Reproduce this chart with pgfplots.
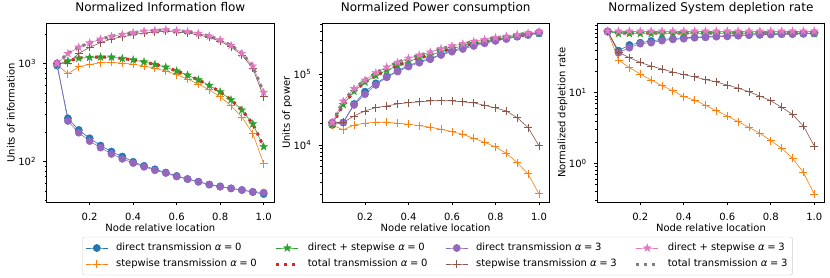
\documentclass[border=0pt]{standalone}
\usepackage{pgfplots}
\usepackage{pgfplotstable}
\pgfplotsset{compat=1.18}
\usepackage{fontspec}
\setmainfont{DejaVu Sans}
\definecolor{c0}{HTML}{1F77B4}
\definecolor{c1}{HTML}{FF7F0E}
\definecolor{c2}{HTML}{2CA02C}
\definecolor{c3}{HTML}{D62728}
\definecolor{c4}{HTML}{9467BD}
\definecolor{c5}{HTML}{8C564B}
\definecolor{c6}{HTML}{E377C2}
\definecolor{c7}{HTML}{7F7F7F}
\pgfdeclareplotmark{fstar}{%
  \pgfpathmoveto{\pgfpointpolar{90}{\pgfplotmarksize}}%
  \pgfpathlineto{\pgfpointpolar{126}{0.382\pgfplotmarksize}}%
  \pgfpathlineto{\pgfpointpolar{162}{\pgfplotmarksize}}%
  \pgfpathlineto{\pgfpointpolar{198}{0.382\pgfplotmarksize}}%
  \pgfpathlineto{\pgfpointpolar{234}{\pgfplotmarksize}}%
  \pgfpathlineto{\pgfpointpolar{270}{0.382\pgfplotmarksize}}%
  \pgfpathlineto{\pgfpointpolar{306}{\pgfplotmarksize}}%
  \pgfpathlineto{\pgfpointpolar{342}{0.382\pgfplotmarksize}}%
  \pgfpathlineto{\pgfpointpolar{18}{\pgfplotmarksize}}%
  \pgfpathlineto{\pgfpointpolar{54}{0.382\pgfplotmarksize}}%
  \pgfpathclose
  \pgfusepathqfillstroke}

\pgfplotstableread{
x    dA0   sA0   dsA0  tA0   dA3   sA3   dsA3  tA3
0.05 950   960   970   970   1000  1000  1000  1000
0.10 275   785   1060  1060  258   1000  1260  1260
0.15 209   920   1130  1130  196   1265  1461  1461
0.20 172   977   1150  1150  161   1456  1617  1617
0.25 145   1010  1160  1160  138   1626  1764  1764
0.30 126   1024  1155  1155  119   1770  1889  1889
0.35 112   1005  1120  1120  106   1870  1976  1976
0.40 99    980   1085  1085  96    1960  2056  2056
0.45 90    940   1035  1035  88    2040  2128  2128
0.50 83    890   975   975   81    2090  2171  2171
0.55 77    836   913   913   76    2120  2196  2196
0.60 71    765   836   836   70    2090  2160  2160
0.65 66    692   758   758   66    2040  2106  2106
0.70 62    615   677   677   62    1960  2022  2022
0.75 58    538   596   596   58    1840  1898  1898
0.80 55.6  455   511   511   55    1680  1735  1735
0.85 53    370   424   424   53    1470  1523  1523
0.90 51    283   334   334   51    1216  1267  1267
0.95 48.6  192   241   241   49    890   939   939
1.00 46.4  95    141   141   48    457   505   505
}\tInfo

\pgfplotstableread{
x    dA0     sA0    dsA0    tA0     dA3     sA3    dsA3    tA3
0.05 19100   19100  19500   19500   20700   20700  20700   20700
0.10 20700   16300  37000   37000   20700   20700  41400   41400
0.15 37800   19100  56900   56900   36600   25600  62200   62200
0.20 56400   20200  76600   76600   51800   30100  81900   81900
0.25 73800   20900  94700   94700   70000   33600  103600  103600
0.30 91700   20900  112600  112600  89700   35400  125000  125000
0.35 111000  20200  131000  131000  108000  37800  146000  146000
0.40 131000  19600  150600  150600  127000  39500  166500  166500
0.45 149000  18700  168000  168000  144000  40400  184000  184000
0.50 166000  17800  184000  184000  161000  41700  203000  203000
0.55 189000  16600  206000  206000  185000  42100  227000  227000
0.60 213000  15400  228000  228000  206000  41700  248000  248000
0.65 235000  14100  249000  249000  225000  40400  265000  265000
0.70 256000  12400  268000  268000  248000  39100  287000  287000
0.75 279000  10900  290000  290000  270000  36200  306000  306000
0.80 298000  9370   307000  307000  292000  33200  325000  325000
0.85 318000  7600   326000  326000  310000  30100  340000  340000
0.90 336000  5640   342000  342000  336000  24200  360000  360000
0.95 354000  3900   358000  358000  358000  17600  376000  376000
1.00 374000  2040   376000  376000  386000  9700   396000  396000
}\tPower

\pgfplotstableread{
x    dA0   sA0    dsA0  tA0   dA3   sA3   dsA3  tA3
0.05 73    73     73.5  74    74    74    74.5  74
0.10 39.3  29     68.5  69.5  36.8  37.2  74.5  71.5
0.15 47.3  22.6   68.5  69.5  43.3  31.3  74.5  71.5
0.20 51    18.4   68.5  69.5  49.4  26.9  74.5  71.5
0.25 53.9  15.1   68.5  69.5  51    23.8  74.5  71.5
0.30 56.8  12.6   68.5  69.5  54.5  21.6  74.5  71.5
0.35 58    10.6   68.5  69.5  56.8  19.6  74.5  71.5
0.40 60    8.78   68.5  69.5  58    18    74.5  71.5
0.45 60.6  7.87   68.5  69.5  60    16.7  74.5  71.5
0.50 62    6.62   68.5  69.5  60.6  15.3  74.5  71.5
0.55 63.3  5.56   68.5  69.5  62    14.2  74.5  71.5
0.60 64    4.68   68.5  69.5  62.6  12.8  74.5  71.5
0.65 64.7  3.89   68.5  69.5  64    11.6  74.5  71.5
0.70 65.4  3.23   68.5  69.5  65.4  10.3  74.5  71.5
0.75 66    2.66   68.5  69.5  66    8.97  74.5  71.5
0.80 66.8  2.1    68.5  69.5  66.8  7.7   74.5  71.5
0.85 67.5  1.63   68.5  69.5  67.5  6.2   74.5  71.5
0.90 67.5  1.18   68.5  69.5  68.2  4.93  74.5  71.5
0.95 68    0.746  68.5  69.5  69    3.37  74.5  71.5
1.00 69    0.364  68.5  69.5  70    1.76  74.5  71.5
}\tDepl

\tikzset{
  serDAzero/.style={color=c0, line width=0.6pt, mark=*, mark size=3.6pt, mark options={fill=c0, draw=c0, line width=0.5pt}},
  serSAzero/.style={color=c1, line width=0.6pt, mark=+, mark size=4pt, mark options={line width=0.9pt}},
  serDSAzero/.style={color=c2, line width=0.6pt, mark=fstar, mark size=4.1pt, mark options={fill=c2, draw=c2, line width=0.4pt}},
  serTAzero/.style={color=c3, line width=3pt, dash pattern=on 3pt off 4.8pt},
  serDAthree/.style={color=c4, line width=0.6pt, mark=*, mark size=3.6pt, mark options={fill=c4, draw=c4, line width=0.5pt}},
  serSAthree/.style={color=c5, line width=0.6pt, mark=+, mark size=4pt, mark options={line width=0.9pt}},
  serDSAthree/.style={color=c6, line width=0.6pt, mark=fstar, mark size=4.1pt, mark options={fill=c6, draw=c6, line width=0.4pt}},
  serTAthree/.style={color=c7, line width=3pt, dash pattern=on 3pt off 4.8pt},
}
\newcommand{\ttl}{\fontsize{12}{14}\selectfont}
\pgfplotsset{
  legend image code/.code={\draw[mark repeat=2,mark phase=2,#1] plot coordinates {(0pt,0pt) (11pt,0pt) (22pt,0pt)};},
  every axis/.append style={
    ymode=log, scale only axis, width=227.3pt, height=178.5pt, anchor=south west,
    xmin=0.0025, xmax=1.0475,
    xtick={0.2,0.4,0.6,0.8,1.0},
    xticklabels={0.2,0.4,0.6,0.8,1.0},
    font=\fontsize{10}{12}\selectfont,
    xticklabel style={inner sep=0pt, anchor=north, yshift=-7pt},
    yticklabel style={inner sep=0pt, anchor=east, xshift=-7pt},
    tick align=outside, tick pos=left,
    major tick length=3.5pt, minor tick length=2pt,
    tick style={black, line width=0.8pt},
    minor tick style={black, line width=0.6pt},
    axis line style={line width=0.8pt},
    xlabel={Node relative location},
    xlabel style={at={(axis description cs:0.5,0)}, anchor=base, inner sep=0pt, yshift=-29.5pt},
    ylabel style={at={(axis description cs:-0.141,0.5)}, anchor=base, inner sep=0pt},
    title style={at={(axis description cs:0.5,1)}, anchor=base, inner sep=0pt, yshift=6.4pt},
  }
}

\begin{document}
\begin{tikzpicture}
\useasboundingbox (0,0) rectangle (830pt,278pt);
% Panel 1
\begin{axis}[at={(46.7pt,76pt)},
  ymin=38.5, ymax=2550,
  ytick={100,1000}, yticklabels={10\textsuperscript{2},10\textsuperscript{3}},
  minor ytick={40,50,60,70,80,90,200,300,400,500,600,700,800,900,2000},
  title={\ttl Normalized Information flow}, ylabel={Units of information}]
\addplot[serDAzero] table[x=x,y=dA0]{\tInfo};
\addplot[serSAzero] table[x=x,y=sA0]{\tInfo};
\addplot[serDSAzero] table[x=x,y=dsA0]{\tInfo};
\addplot[serTAzero] table[x=x,y=tA0]{\tInfo};
\addplot[serDAthree] table[x=x,y=dA3]{\tInfo};
\addplot[serSAthree] table[x=x,y=sA3]{\tInfo};
\addplot[serDSAthree] table[x=x,y=dsA3]{\tInfo};
\addplot[serTAthree] table[x=x,y=tA3]{\tInfo};
\end{axis}
% Panel 2
\begin{axis}[at={(322pt,76pt)},
  ymin=1570, ymax=514000,
  ytick={10000,100000}, yticklabels={10\textsuperscript{4},10\textsuperscript{5}},
  minor ytick={2000,3000,4000,5000,6000,7000,8000,9000,20000,30000,40000,50000,60000,70000,80000,90000,200000,300000,400000,500000},
  title={\ttl Normalized Power consumption}, ylabel={Units of power},
  legend columns=4, legend cell align=left,
  legend style={at={(axis description cs:-1.0546,-0.195)}, anchor=north west,
    draw=black!20, rounded corners=2pt, fill=white, inner sep=3pt,
    font=\fontsize{10}{12}\selectfont,
    /tikz/every odd column/.append style={column sep=6pt},
    /tikz/every even column/.append style={column sep=16pt},
    nodes={inner sep=2pt, text height=8.5pt, text depth=3.5pt}}]
\addplot[serDAzero, forget plot] table[x=x,y=dA0]{\tPower};
\addplot[serSAzero, forget plot] table[x=x,y=sA0]{\tPower};
\addplot[serDSAzero, forget plot] table[x=x,y=dsA0]{\tPower};
\addplot[serTAzero, forget plot] table[x=x,y=tA0]{\tPower};
\addplot[serDAthree, forget plot] table[x=x,y=dA3]{\tPower};
\addplot[serSAthree, forget plot] table[x=x,y=sA3]{\tPower};
\addplot[serDSAthree, forget plot] table[x=x,y=dsA3]{\tPower};
\addplot[serTAthree, forget plot] table[x=x,y=tA3]{\tPower};
\addlegendimage{serDAzero}\addlegendentry{direct transmission {\itshape α}\kern2.6pt=\kern2.6pt0}
\addlegendimage{serDSAzero}\addlegendentry{direct + stepwise {\itshape α}\kern2.6pt=\kern2.6pt0}
\addlegendimage{serDAthree}\addlegendentry{direct transmission {\itshape α}\kern2.6pt=\kern2.6pt3}
\addlegendimage{serDSAthree}\addlegendentry{direct + stepwise {\itshape α}\kern2.6pt=\kern2.6pt3}
\addlegendimage{serSAzero}\addlegendentry{stepwise transmission {\itshape α}\kern2.6pt=\kern2.6pt0}
\addlegendimage{serTAzero}\addlegendentry{total transmission {\itshape α}\kern2.6pt=\kern2.6pt0}
\addlegendimage{serSAthree}\addlegendentry{stepwise transmission {\itshape α}\kern2.6pt=\kern2.6pt3}
\addlegendimage{serTAthree}\addlegendentry{total transmission {\itshape α}\kern2.6pt=\kern2.6pt3}
\end{axis}
% Panel 3
\begin{axis}[at={(597.3pt,76pt)},
  ymin=0.284, ymax=95.3,
  ytick={1,10}, yticklabels={10\textsuperscript{0},10\textsuperscript{1}},
  minor ytick={0.3,0.4,0.5,0.6,0.7,0.8,0.9,2,3,4,5,6,7,8,9,20,30,40,50,60,70,80,90},
  title={\ttl Normalized System depletion rate}, ylabel={Normalized depletion rate}]
\addplot[serDAzero] table[x=x,y=dA0]{\tDepl};
\addplot[serSAzero] table[x=x,y=sA0]{\tDepl};
\addplot[serDSAzero] table[x=x,y=dsA0]{\tDepl};
\addplot[serTAzero] table[x=x,y=tA0]{\tDepl};
\addplot[serDAthree] table[x=x,y=dA3]{\tDepl};
\addplot[serSAthree] table[x=x,y=sA3]{\tDepl};
\addplot[serDSAthree] table[x=x,y=dsA3]{\tDepl};
\addplot[serTAthree] table[x=x,y=tA3]{\tDepl};
\end{axis}
\end{tikzpicture}
\end{document}
